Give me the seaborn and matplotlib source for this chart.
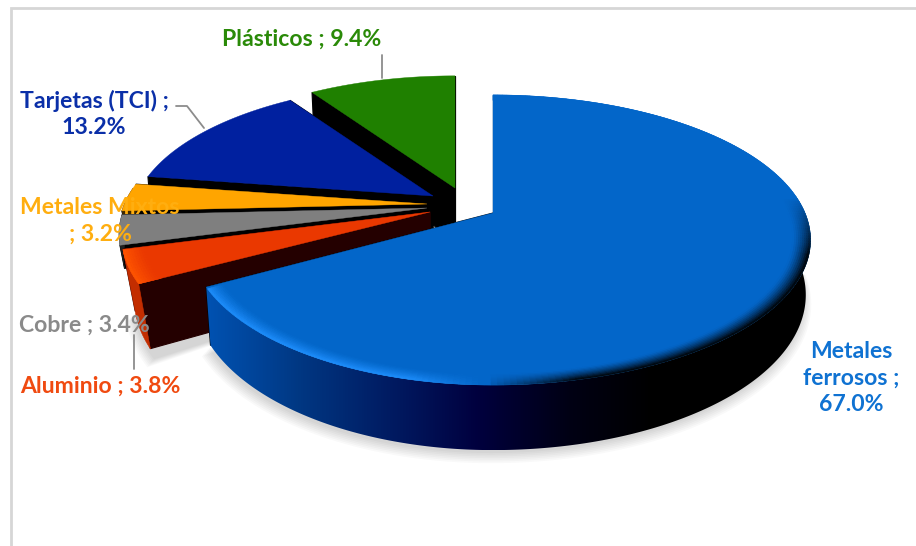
import numpy as np
import matplotlib
matplotlib.use("Agg")
import matplotlib.pyplot as plt
from matplotlib.collections import PolyCollection
from matplotlib.colors import LinearSegmentedColormap
from matplotlib.patches import Polygon
import seaborn as sns

# Composition of the recovered material, in percent
categories = ["Metales ferrosos", "Aluminio", "Cobre", "Metales Mixtos", "Tarjetas (TCI)", "Plásticos"]
values = [67.0, 3.8, 3.4, 3.2, 13.2, 9.4]

face_colors = ["#0366C9", "#EA3800", "#7F7F7F", "#FFA500", "#00209F", "#1F8000"]
label_colors = ["#0F72D2", "#F04A10", "#8A8A8A", "#FFAE10", "#0A2FA8", "#2A8A08"]

sns.set_theme(style="white")
plt.rcParams["font.family"] = ["Lato", "DejaVu Sans"]
palette = sns.color_palette(face_colors)

W, H = 916, 546
fig = plt.figure(figsize=(W / 100, H / 100), dpi=100, facecolor="white")
ax = fig.add_axes([0, 0, 1, 1])

# Camera model for the tilted, exploded disc
RX, RY, TILT = 312.0, 140.0, 0.186
apexes = [(493, 213), (430, 212), (427, 208), (427, 204), (433, 196), (455, 188)]
scales = [1.0, 0.97, 0.97, 0.97, 0.95, 0.95]
squeezes = [0.955, 1.0, 1.0, 1.0, 1.0, 1.0]
depths = [53.0, 59.0, 22.0, 22.0, 53.0, 53.0]
tapers = [0.985, 0.96, 0.985, 0.985, 0.985, 0.985]


def project(i, theta, r=1.0, lowered=False, grow=1.0, shift=(0, 0)):
    """Map a polar position on slice i (clockwise from 12 o'clock) to the canvas."""
    theta = np.asarray(theta, dtype=float)
    u = r * np.sin(theta)
    v = r * np.cos(theta)
    w = 1 + TILT * v
    squeeze = np.where(u < 0, squeezes[i], 1.0)
    x = RX * scales[i] * grow * squeeze * u / w
    y = -RY * scales[i] * grow * v / w
    if lowered:
        x = x * tapers[i]
        y = y + depths[i] / w
    return np.column_stack([apexes[i][0] + shift[0] + x, apexes[i][1] + shift[1] + y])


def blend(a, b, t):
    return tuple((1 - t) * np.array(a) + t * np.array(b))


blue_wall = [(0.0, (0, 82, 178)), (0.155, (0, 55, 130)), (0.33, (0, 22, 92)),
             (0.45, (0, 0, 62)), (0.6, (0, 0, 20)), (0.74, (0, 0, 0)), (1.0, (0, 0, 0))]
blue_cmap = LinearSegmentedColormap.from_list(
    "blue_wall", [(p, tuple(c / 255 for c in col)) for p, col in blue_wall])


def rim_color(i, theta):
    """Colour reached by the bevel at the outer edge of a slice."""
    base = palette[i]
    u, v = np.sin(theta), np.cos(theta)
    if i == 0:
        light = (30 / 255, 142 / 255, 252 / 255)
        fade = np.clip((0.12 - v) / 0.4, 0, 1)
        if u < 0:
            return blend(base, light, fade * np.clip((-u - 0.02) / 0.2, 0, 1))
        return blend(base, (0, 0, 0), fade * np.clip((u + 0.02) / 0.25, 0, 1))
    return (1.0, 85 / 255, 0.0)


def shadow(i, t0, t1):
    th = np.linspace(t0, t1, 90)
    low_apex = project(i, 0.0, 0.0, lowered=True)
    for step in range(7):
        rim = project(i, th, 1.0, lowered=True, grow=1 + 0.004 * step, shift=(-2, 3 + step))
        ax.add_patch(Polygon(np.vstack([rim, low_apex]), closed=True,
                             fc=(0, 0, 0), ec="none", alpha=0.022, zorder=1))


def outer_wall(i, th, z):
    """Side of the slice for the part of the rim that faces the viewer."""
    front = th[np.cos(th) < 0.12]
    if front.size < 2:
        return
    top = project(i, front)
    low = project(i, front, lowered=True)
    outline = np.vstack([top, low[::-1]])
    if i == 0:
        x0, x1 = outline[:, 0].min(), outline[:, 0].max()
        y0, y1 = outline[:, 1].min(), outline[:, 1].max()
        patch = Polygon(outline, closed=True, fc="none", ec="none", zorder=z)
        ax.add_patch(patch)
        img = ax.imshow(np.linspace(0, 1, 512)[None, :], cmap=blue_cmap, aspect="auto",
                        extent=(x0, x1, y1, y0), zorder=z, interpolation="bilinear")
        img.set_clip_path(patch)
    else:
        color = (195 / 255, 45 / 255, 0) if i == 1 else tuple(0.25 * c for c in palette[i])
        ax.add_patch(Polygon(outline, closed=True, fc=color, ec=color, lw=0.4, zorder=z))


def draw_slice(i, t0, t1, z):
    base = palette[i]
    th = np.linspace(t0, t1, max(40, int(3 * np.degrees(t1 - t0))))
    rim_top = project(i, th)
    rim_low = project(i, th, lowered=True)
    apex_top = project(i, 0.0, 0.0)
    apex_low = project(i, 0.0, 0.0, lowered=True)

    # Radial walls
    radial = (0.14, 0, 0) if i == 1 else (0, 0, 0)
    for k in (-1, 0):
        ax.add_patch(Polygon(np.vstack([apex_top, rim_top[k], rim_low[k], apex_low]), closed=True,
                             fc=radial, ec=radial, lw=0.8, zorder=z))

    outer_wall(i, th, z)

    # Top face
    ax.add_patch(Polygon(np.vstack([apex_top, rim_top]), closed=True, fc=base, ec=base, lw=0.3, zorder=z + 0.1))

    # Bevel running along the rim of the top face
    if i in (0, 1):
        radii = np.linspace(0.945 if i == 0 else 0.93, 1.0, 10)
        quads, cols = [], []
        step = 3
        for b in range(len(radii) - 1):
            inner = project(i, th, radii[b])
            outer = project(i, th, radii[b + 1])
            t = ((b + 0.5) / (len(radii) - 1)) ** 1.4
            for a in range(0, len(th) - step, step):
                quads.append([inner[a], inner[a + step], outer[a + step], outer[a]])
                cols.append(blend(base, rim_color(i, th[a]), t))
        ax.add_collection(PolyCollection(quads, facecolors=cols, edgecolors=cols, linewidths=0.4, zorder=z + 0.2))


# Slices start at 12 o'clock and run clockwise
edges = np.radians(np.concatenate([[0.0], np.cumsum(values)]) * 3.6)
shadow(0, np.pi / 2, edges[1])
shadow(1, edges[1] - 0.05, edges[2])

# Painted from the back of the stack to the front
order = [5, 4, 3, 2, 1, 0]
for z, i in enumerate(order, start=2):
    draw_slice(i, edges[i], edges[i + 1], z)

# Frame lines
frame = "#D6D6D6"
ax.plot([11, 11, W], [H, 7.5, 7.5], color=frame, lw=2.0, zorder=1, solid_joinstyle="miter")

# Leader lines
leader = "#8C8C8C"
ax.plot([176, 187, 204], [106, 106, 128], color=leader, lw=1.3, zorder=20)
ax.plot([382, 382], [55, 78], color=leader, lw=1.3, zorder=20)
ax.plot([134, 134], [335, 369], color=leader, lw=1.3, zorder=20)

# Slice labels
label_font = dict(fontsize=16.6, fontweight="bold", zorder=21, linespacing=1.33, ha="center", va="center")
label_text = [f"{c} ; {v:.1f}%" for c, v in zip(categories, values)]
ax.text(851, 378, "Metales\nferrosos ;\n67.0%", color=label_colors[0], **label_font)
ax.text(100, 386, label_text[1], color=label_colors[1], **label_font)
ax.text(84, 325, label_text[2], color=label_colors[2], **label_font)
ax.text(100, 221, "Metales Mixtos\n; 3.2%", color=label_colors[3], **label_font)
ax.text(94, 114, "Tarjetas (TCI) ;\n13.2%", color=label_colors[4], **label_font)
ax.text(302, 39, label_text[5], color=label_colors[5], **label_font)

ax.set_xlim(0, W)
ax.set_ylim(H, 0)
ax.axis("off")

fig.savefig("out.png", dpi=100, facecolor="white")
